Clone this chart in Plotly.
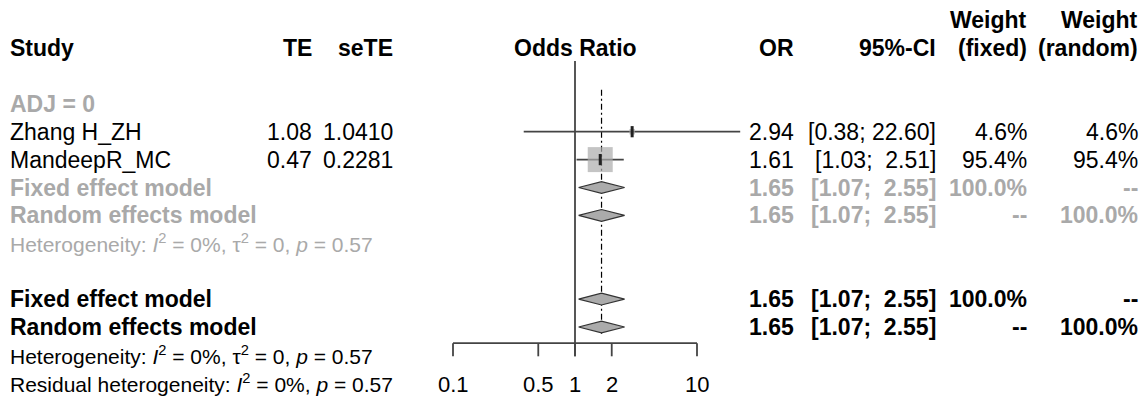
import numpy as np
import plotly.graph_objects as go

# ---- data -------------------------------------------------------------
studies = ["Zhang H_ZH", "MandeepR_MC"]
te = ["1.08", "0.47"]
se_te = ["1.0410", "0.2281"]
study_or = [2.94, 1.61]
study_lo = [0.38, 1.03]
study_hi = [22.60, 2.51]
weight_fixed = [4.6, 95.4]
weight_random = [4.6, 95.4]

pooled_or = 1.65
pooled_lo = 1.07
pooled_hi = 2.55
het_text = "Heterogeneity: <i>I</i><sup>2</sup> = 0%, τ<sup>2</sup> = 0, <i>p</i> = 0.57"
resid_text = "Residual heterogeneity: <i>I</i><sup>2</sup> = 0%, <i>p</i> = 0.57"

tick_vals = [0.1, 0.5, 1, 2, 10]
tick_labels = ["0.1", "0.5", "1", "2", "10"]

# ---- layout constants ---------------------------------------------------
W, H = 1147, 402
X_ONE = 575.0        # pixel of OR = 1
PX_PER_DEC = 122.0   # pixels per decade on the log scale
ROW0_Y = 103.8       # pixel of first row
ROW_H = 27.9         # row height in pixels

GREY = "#A9A9A9"
FILL = "#ABABAB"
LINE = "#444444"
FONT = "Liberation Sans, Arial, Helvetica, sans-serif"
FS = 23
FS_HET = 21
FS_TICK = 22

# column anchors in pixels (annotations carry a 2 px pad)
PAD = 2
COL_STUDY = 10 - PAD
COL_TE = 312 + PAD
COL_SETE = 393 + PAD
COL_OR = 794 + PAD
COL_CI = 936 + PAD
COL_WF = 1027 + PAD
COL_WR = 1138 + PAD

STUDY_ROWS = [1, 2]
SUB_FIXED, SUB_RANDOM, SUB_HET = 3, 4, 5
ALL_FIXED, ALL_RANDOM, ALL_HET, ALL_RESID = 7, 8, 9, 10


def fmt_ci(lo, hi):
    s = f"[{lo:.2f}; {hi:5.2f}]"
    return s.replace("  ", " \u00a0")


fig = go.Figure()

# reference line at OR = 1
fig.add_trace(go.Scatter(x=[1, 1], y=[-1.53, 9.05], mode="lines",
                         line=dict(color=LINE, width=1.8), hoverinfo="skip"))
# pooled estimate dash-dot line
fig.add_trace(go.Scatter(x=[pooled_or, pooled_or], y=[-0.5, 8.3], mode="lines",
                         line=dict(color="black", width=1.2, dash="6px,3px,2px,3px"),
                         hoverinfo="skip"))

# study confidence intervals
for r, lo, hi in zip(STUDY_ROWS, study_lo, study_hi):
    fig.add_trace(go.Scatter(x=[lo, hi], y=[r, r], mode="lines",
                             line=dict(color=LINE, width=1.8), hoverinfo="skip"))

# study squares sized by weight
wmax = max(weight_fixed)
sizes = [25 * np.sqrt(w / wmax) for w in weight_fixed]
fig.add_trace(go.Scatter(x=study_or, y=STUDY_ROWS, mode="markers",
                         marker=dict(symbol="square", size=sizes, color=FILL,
                                     line=dict(width=0)), hoverinfo="skip"))
fig.add_trace(go.Scatter(x=study_or, y=STUDY_ROWS, mode="markers",
                         marker=dict(symbol="line-ns", size=8,
                                     line=dict(color="#222222", width=3)),
                         hoverinfo="skip"))

# pooled diamonds
for r in [SUB_FIXED, SUB_RANDOM, ALL_FIXED, ALL_RANDOM]:
    fig.add_trace(go.Scatter(
        x=[pooled_lo, pooled_or, pooled_hi, pooled_or, pooled_lo],
        y=[r, r - 0.21, r, r + 0.21, r],
        mode="lines", fill="toself", fillcolor=FILL,
        line=dict(color="#333333", width=1.2), hoverinfo="skip"))

# bottom axis
AXIS_Y, TICK_Y = 8.58, 9.05
fig.add_trace(go.Scatter(x=[tick_vals[0], tick_vals[-1]], y=[AXIS_Y, AXIS_Y],
                         mode="lines", line=dict(color=LINE, width=1.8),
                         hoverinfo="skip"))
for t in tick_vals:
    fig.add_trace(go.Scatter(x=[t, t], y=[AXIS_Y, TICK_Y], mode="lines",
                             line=dict(color=LINE, width=1.8), hoverinfo="skip"))

annotations = []


def txt(text, px, row, anchor="right", color="black", bold=False, size=FS):
    if bold:
        text = f"<b>{text}</b>"
    annotations.append(dict(
        text=text, x=px / W, xref="paper", y=row, yref="y",
        xanchor=anchor, yanchor="middle", showarrow=False,
        font=dict(family=FONT, size=size, color=color)))


# headers
txt("Weight", COL_WF, -3, bold=True)
txt("Weight", COL_WR, -3, bold=True)
txt("Study", COL_STUDY, -2, anchor="left", bold=True)
txt("TE", COL_TE, -2, bold=True)
txt("seTE", COL_SETE, -2, bold=True)
txt("Odds Ratio", X_ONE, -2, anchor="center", bold=True)
txt("OR", COL_OR, -2, bold=True)
txt("95%-CI", COL_CI, -2, bold=True)
txt("(fixed)", COL_WF, -2, bold=True)
txt("(random)", COL_WR, -2, bold=True)

# subgroup
txt("ADJ = 0", COL_STUDY, 0, anchor="left", color=GREY, bold=True)
for i, r in enumerate(STUDY_ROWS):
    txt(studies[i], COL_STUDY, r, anchor="left")
    txt(te[i], COL_TE, r)
    txt(se_te[i], COL_SETE, r)
    txt(f"{study_or[i]:.2f}", COL_OR, r)
    txt(fmt_ci(study_lo[i], study_hi[i]), COL_CI, r)
    txt(f"{weight_fixed[i]:.1f}%", COL_WF, r)
    txt(f"{weight_random[i]:.1f}%", COL_WR, r)

pooled_ci = fmt_ci(pooled_lo, pooled_hi)
for rows, col in [((SUB_FIXED, SUB_RANDOM, SUB_HET), GREY),
                  ((ALL_FIXED, ALL_RANDOM, ALL_HET), "black")]:
    rf, rr, rh = rows
    txt("Fixed effect model", COL_STUDY, rf, anchor="left", color=col, bold=True)
    txt("Random effects model", COL_STUDY, rr, anchor="left", color=col, bold=True)
    for r, wf, wr in [(rf, "100.0%", "--"), (rr, "--", "100.0%")]:
        txt(f"{pooled_or:.2f}", COL_OR, r, color=col, bold=True)
        txt(pooled_ci, COL_CI, r, color=col, bold=True)
        txt(wf, COL_WF, r, color=col, bold=True)
        txt(wr, COL_WR, r, color=col, bold=True)
    txt(het_text, COL_STUDY, rh, anchor="left", color=col, size=FS_HET)

txt(resid_text, COL_STUDY, ALL_RESID, anchor="left", size=FS_HET)

# tick labels
for t, lab in zip(tick_vals, tick_labels):
    annotations.append(dict(
        text=lab, x=np.log10(t), xref="x", y=10.05, yref="y",
        xanchor="center", yanchor="middle", showarrow=False,
        font=dict(family=FONT, size=FS_TICK, color="black")))

fig.update_layout(
    width=W, height=H,
    margin=dict(l=0, r=0, t=0, b=0),
    paper_bgcolor="white", plot_bgcolor="white",
    showlegend=False,
    annotations=annotations,
    xaxis=dict(type="log", range=[-X_ONE / PX_PER_DEC, (W - X_ONE) / PX_PER_DEC],
               domain=[0, 1], visible=False, fixedrange=True),
    yaxis=dict(range=[(H - ROW0_Y) / ROW_H, -ROW0_Y / ROW_H],
               domain=[0, 1], visible=False, fixedrange=True),
)

fig.write_html("out.html")
